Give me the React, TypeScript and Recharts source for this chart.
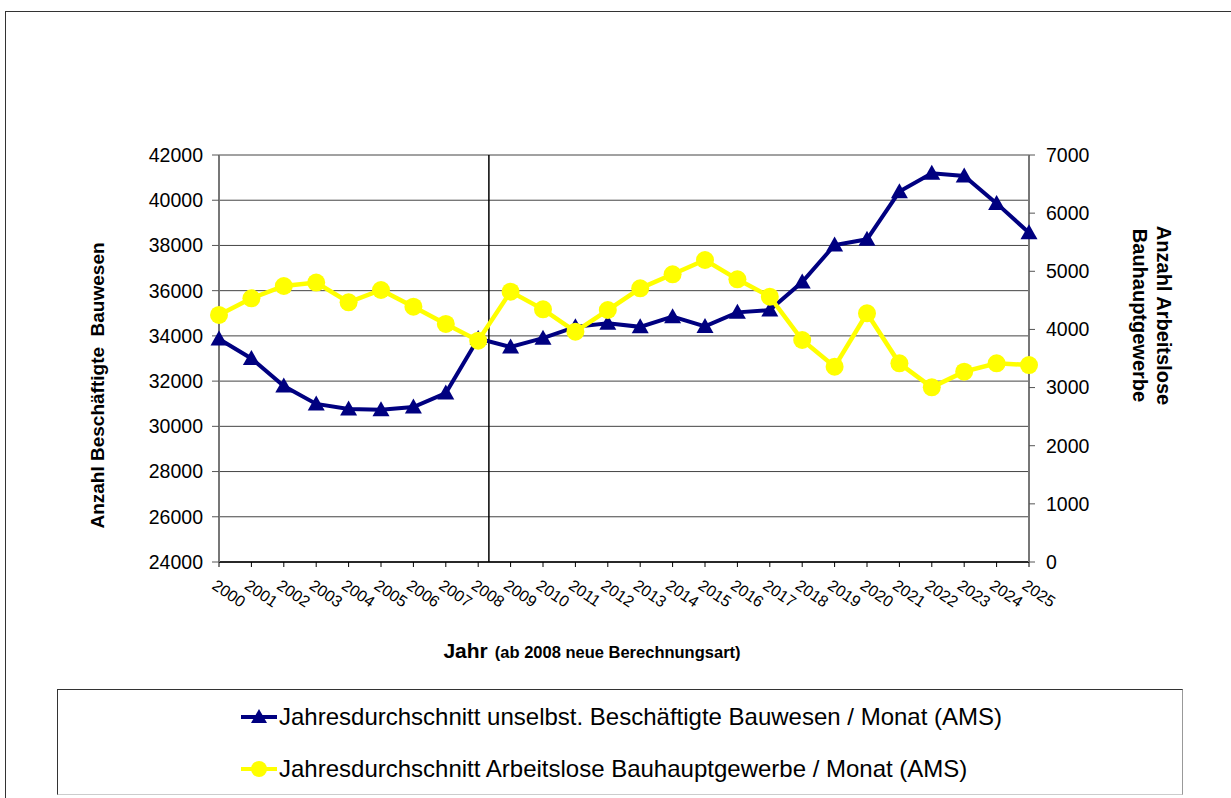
import React from "react";
import {
  CartesianGrid,
  Label,
  Legend,
  Line,
  LineChart,
  ReferenceLine,
  XAxis,
  YAxis,
} from "recharts";

const years = [
  2000, 2001, 2002, 2003, 2004, 2005, 2006, 2007, 2008, 2009, 2010, 2011, 2012,
  2013, 2014, 2015, 2016, 2017, 2018, 2019, 2020, 2021, 2022, 2023, 2024, 2025,
];

// Jahresdurchschnitt unselbst. Beschäftigte Bauwesen (linke Achse)
const beschaeftigte = [
  33860, 33000, 31780, 30990, 30770, 30730, 30850, 31470, 33880, 33510, 33900,
  34400, 34560, 34400, 34850, 34420, 35040, 35140, 36380, 38020, 38270, 40380,
  41190, 41070, 39860, 38560,
];

// Jahresdurchschnitt Arbeitslose Bauhauptgewerbe (rechte Achse)
const arbeitslose = [
  4250, 4535, 4747, 4805, 4467, 4678, 4392, 4094, 3807, 4650, 4346, 3962, 4334,
  4707, 4948, 5194, 4862, 4564, 3818, 3360, 4277, 3417, 3004, 3274, 3417, 3388,
];

const leftTicks = [24000, 26000, 28000, 30000, 32000, 34000, 36000, 38000, 40000, 42000];
const rightTicks = [0, 1000, 2000, 3000, 4000, 5000, 6000, 7000];

const nameBesch = "Jahresdurchschnitt unselbst. Beschäftigte Bauwesen / Monat (AMS)";
const nameAlo = "Jahresdurchschnitt Arbeitslose Bauhauptgewerbe / Monat (AMS)";
const legendOrder = ["besch", "alo"];

const data = years.map((year, i) => ({
  year,
  besch: beschaeftigte[i],
  alo: arbeitslose[i],
}));

const font = '"Liberation Sans", Arial, sans-serif';
const NAVY = "#000080";
const YELLOW = "#FFFF00";

const TriangleDot = (props: any) => {
  const { cx, cy } = props;
  if (cx == null || cy == null) return null;
  return (
    <path
      d={`M${cx},${cy - 8.5} L${cx + 8.5},${cy + 6.5} L${cx - 8.5},${cy + 6.5} Z`}
      fill={NAVY}
    />
  );
};

const CircleDot = (props: any) => {
  const { cx, cy } = props;
  if (cx == null || cy == null) return null;
  return <circle cx={cx} cy={cy} r={9} fill={YELLOW} />;
};

const YearTick = (props: any) => {
  const { x, y, payload } = props;
  const x0 = x - 8;
  const y0 = y + 19;
  return (
    <text
      x={x0}
      y={y0}
      transform={`rotate(34, ${x0}, ${y0})`}
      textAnchor="start"
      fontFamily={font}
      fontSize={16}
      fill="#000"
    >
      {payload.value}
    </text>
  );
};

const renderLegend = (props: any) => {
  const items = [...(props.payload || [])].sort(
    (a: any, b: any) => legendOrder.indexOf(a.dataKey) - legendOrder.indexOf(b.dataKey)
  );
  return (
    <div
      style={{
        width: 1126,
        height: 106,
        boxSizing: "border-box",
        borderTop: "1.5px solid #333",
        borderLeft: "1.5px solid #333",
        borderRight: "1.5px solid #999",
        borderBottom: "1.5px solid #ccc",
        position: "relative",
        fontFamily: font,
        fontSize: 24,
        color: "#000",
        background: "#fff",
      }}
    >
      {items.map((it: any, i: number) => (
        <div
          key={it.value}
          style={{
            position: "absolute",
            left: 182,
            top: i === 0 ? 12 : 64,
            height: 30,
            display: "flex",
            alignItems: "center",
            whiteSpace: "nowrap",
          }}
        >
          <svg width={38} height={22} style={{ marginRight: 1 }}>
            <line x1={1} y1={11} x2={37} y2={11} stroke={it.color} strokeWidth={4} />
            {it.dataKey === "besch" ? (
              <path d="M19,3 L27,17 L11,17 Z" fill={NAVY} />
            ) : (
              <circle cx={19} cy={11} r={8} fill={YELLOW} />
            )}
          </svg>
          <span>{it.value}</span>
        </div>
      ))}
    </div>
  );
};

export default function App() {
  return (
    <div
      style={{
        position: "absolute",
        left: 0,
        top: 0,
        width: 1231,
        height: 798,
        overflow: "hidden",
        background: "#fff",
      }}
    >
      <div
        style={{
          position: "absolute",
          left: 5,
          top: 11,
          width: 1300,
          height: 900,
          borderTop: "1.5px solid #333",
          borderLeft: "1.5px solid #333",
        }}
      />
      <div style={{ position: "absolute", left: 0, top: 0 }}>
        <LineChart
          width={1231}
          height={798}
          data={data}
          margin={{ top: 155, right: 0, bottom: 116, left: 0 }}
        >
          <CartesianGrid vertical={false} stroke="#444" strokeWidth={1} yAxisId="left" />
          <XAxis
            dataKey="year"
            type="number"
            domain={[2000, 2025]}
            ticks={years}
            interval={0}
            height={120}
            tick={<YearTick />}
            tickSize={5}
            tickMargin={2}
            axisLine={{ stroke: "#000", strokeWidth: 1.5 }}
            tickLine={{ stroke: "#000" }}
          >
            <Label
              content={(p: any) => {
                const vb = p.viewBox || { x: 219, y: 562, width: 810 };
                const cx = vb.x + vb.width / 2 - 32;
                return (
                  <text
                    x={cx}
                    y={vb.y + 96}
                    textAnchor="middle"
                    fontFamily={font}
                    fontWeight="bold"
                    fill="#000"
                  >
                    <tspan fontSize={21}>Jahr</tspan>
                    <tspan fontSize={16.5} dx={7}>(ab 2008 neue Berechnungsart)</tspan>
                  </text>
                );
              }}
            />
          </XAxis>
          <YAxis
            yAxisId="left"
            orientation="left"
            width={219}
            domain={[24000, 42000]}
            ticks={leftTicks}
            interval={0}
            tickSize={7}
            tickMargin={9}
            tick={{ fontFamily: font, fontSize: 19.5, fill: "#000" }}
            axisLine={{ stroke: "#777", strokeWidth: 2 }}
            tickLine={{ stroke: "#555" }}
          >
            <Label
              content={(p: any) => {
                const vb = p.viewBox || { x: 0, y: 155, width: 219, height: 407 };
                const cx = 97;
                const cy = vb.y + vb.height / 2 + 27;
                return (
                  <text
                    x={cx}
                    y={cy}
                    transform={`rotate(-90, ${cx}, ${cy})`}
                    textAnchor="middle"
                    dominantBaseline="central"
                    fontFamily={font}
                    fontWeight="bold"
                    fontSize={19}
                    fill="#000"
                    style={{ whiteSpace: "pre" }}
                  >
                    {"Anzahl Beschäftigte  Bauwesen"}
                  </text>
                );
              }}
            />
          </YAxis>
          <YAxis
            yAxisId="right"
            orientation="right"
            width={202}
            domain={[0, 7000]}
            ticks={rightTicks}
            interval={0}
            tickSize={6}
            tickMargin={11}
            tick={{ fontFamily: font, fontSize: 19.5, fill: "#000" }}
            axisLine={{ stroke: "#777", strokeWidth: 2 }}
            tickLine={{ stroke: "#555" }}
          >
            <Label
              content={(p: any) => {
                const vb = p.viewBox || { x: 1029, y: 155, width: 202, height: 407 };
                const cy = vb.y + vb.height / 2 - 43;
                const x1 = 1164;
                const x2 = 1140;
                return (
                  <g fontFamily={font} fontWeight="bold" fontSize={20} fill="#000">
                    <text
                      x={x1}
                      y={cy}
                      transform={`rotate(90, ${x1}, ${cy})`}
                      textAnchor="middle"
                      dominantBaseline="central"
                    >
                      Anzahl Arbeitslose
                    </text>
                    <text
                      x={x2}
                      y={cy}
                      transform={`rotate(90, ${x2}, ${cy})`}
                      textAnchor="middle"
                      dominantBaseline="central"
                    >
                      Bauhauptgewerbe
                    </text>
                  </g>
                );
              }}
            />
          </YAxis>
          <ReferenceLine
            x={2008.33}
            yAxisId="left"
            stroke="#000"
            strokeWidth={1.5}
            ifOverflow="extendDomain"
          />
          <Line
            yAxisId="left"
            dataKey="besch"
            name={nameBesch}
            stroke={NAVY}
            strokeWidth={4}
            dot={<TriangleDot />}
            activeDot={false}
            isAnimationActive={false}
          />
          <Line
            yAxisId="right"
            dataKey="alo"
            name={nameAlo}
            stroke={YELLOW}
            strokeWidth={4.5}
            dot={<CircleDot />}
            activeDot={false}
            isAnimationActive={false}
          />
          <Legend
            layout="horizontal"
            verticalAlign="middle"
            align="center"
            content={renderLegend}
            wrapperStyle={{ position: "absolute", left: 57, top: 689, width: 1126, height: 106 }}
          />
        </LineChart>
      </div>
    </div>
  );
}
